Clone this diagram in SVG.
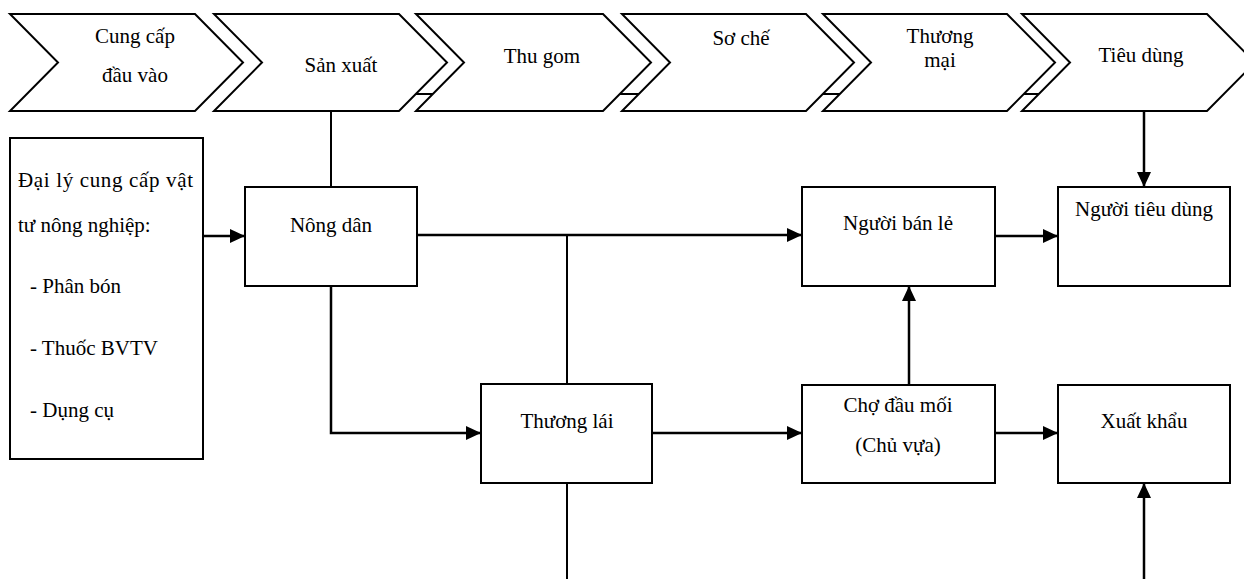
<svg xmlns="http://www.w3.org/2000/svg" width="1244" height="579" viewBox="0 0 1244 579">
<style>
.chev{fill:#fff;stroke:#000;stroke-width:2;stroke-linejoin:miter}
.box{fill:#fff;stroke:#000;stroke-width:2}
.ln{fill:none;stroke:#000;stroke-width:2}
.ar{fill:none;stroke:#000;stroke-width:2.5;marker-end:url(#ah)}
text{font-family:'Liberation Serif','Times New Roman','DejaVu Serif','Noto Serif',serif;font-size:21px;fill:#000}
.c{text-anchor:middle}
</style>
<defs>
<marker id="ah" markerUnits="userSpaceOnUse" viewBox="0 0 15 14" refX="15" refY="7" markerWidth="15" markerHeight="14" orient="auto">
<path d="M0,0 L15,7 L0,14 z" fill="#000"/>
</marker>
</defs>
<rect width="1244" height="579" fill="#fff"/>
<g id="stages" font-family="Liberation Serif, DejaVu Serif, serif">
<g id="stage1"><polygon class="chev" points="10,14 195,14 243,62.5 195,111 10,111 58,62.5"/>
<text class="c" x="135" y="43">Cung cấp</text><text class="c" x="135" y="82">đầu vào</text></g>
<g id="stage2"><polygon class="chev" points="214,14 399,14 447,62.5 399,111 214,111 262,62.5"/>
<text class="c" x="341" y="72">Sản xuất</text></g>
<g id="stage3"><polygon class="chev" points="416,14 603,14 651,62.5 603,111 416,111 464,62.5"/>
<text class="c" x="542" y="63">Thu gom</text></g>
<g id="stage4"><polygon class="chev" points="622,14 806,14 854,62.5 806,111 622,111 670,62.5"/>
<text class="c" x="741" y="45">Sơ chế</text></g>
<g id="stage5"><polygon class="chev" points="823,14 1007,14 1055,62.5 1007,111 823,111 871,62.5"/>
<text class="c" x="940" y="43">Thương</text><text class="c" x="940" y="67">mại</text></g>
<g id="stage6"><polygon class="chev" points="1022,14 1207,14 1255,62.5 1207,111 1022,111 1070,62.5"/>
<text class="c" x="1141" y="62">Tiêu dùng</text></g>
<g id="stage-joins">
<line class="ln" x1="416" y1="94" x2="433" y2="94"/>
<line class="ln" x1="620" y1="94" x2="639" y2="94"/>
<line class="ln" x1="823" y1="94" x2="840" y2="94"/>
<line class="ln" x1="1024" y1="94" x2="1039" y2="94"/>
</g>
</g>
<g id="connectors">
<line class="ln" x1="331" y1="111" x2="331" y2="187"/>
<line class="ar" x1="203" y1="236" x2="245" y2="236"/>
<polyline class="ar" points="331,286 331,433 481,433"/>
<line class="ar" x1="417" y1="235" x2="802" y2="235"/>
<line class="ln" x1="567" y1="235" x2="567" y2="384"/>
<line class="ln" x1="567" y1="483" x2="567" y2="579"/>
<line class="ar" x1="652" y1="433" x2="802" y2="433"/>
<line class="ar" x1="909" y1="385" x2="909" y2="286"/>
<line class="ar" x1="995" y1="236" x2="1058" y2="236"/>
<line class="ar" x1="1144" y1="111" x2="1144" y2="187"/>
<line class="ar" x1="995" y1="433" x2="1058" y2="433"/>
<line class="ar" x1="1144" y1="579" x2="1144" y2="483"/>
</g>
<g id="dai-ly"><rect class="box" x="10" y="138" width="193" height="321"/>
<text x="18" y="187" textLength="175" lengthAdjust="spacing">Đại lý cung cấp vật</text>
<text x="18" y="232">tư nông nghiệp:</text>
<text x="30" y="293">- Phân bón</text>
<text x="30" y="355">- Thuốc BVTV</text>
<text x="30" y="417">- Dụng cụ</text></g>
<g id="nong-dan"><rect class="box" x="245" y="187" width="172" height="99"/>
<text class="c" x="331" y="232">Nông dân</text></g>
<g id="thuong-lai"><rect class="box" x="481" y="384" width="171" height="99"/>
<text class="c" x="567" y="428">Thương lái</text></g>
<g id="nguoi-ban-le"><rect class="box" x="802" y="187" width="193" height="99"/>
<text class="c" x="898" y="230">Người bán lẻ</text></g>
<g id="cho-dau-moi"><rect class="box" x="802" y="385" width="193" height="98"/>
<text class="c" x="898" y="412">Chợ đầu mối</text>
<text class="c" x="898" y="452">(Chủ vựa)</text></g>
<g id="nguoi-tieu-dung"><rect class="box" x="1058" y="187" width="172" height="99"/>
<text class="c" x="1144" y="216">Người tiêu dùng</text></g>
<g id="xuat-khau"><rect class="box" x="1058" y="385" width="172" height="98"/>
<text class="c" x="1144" y="428">Xuất khẩu</text></g>
</svg>
